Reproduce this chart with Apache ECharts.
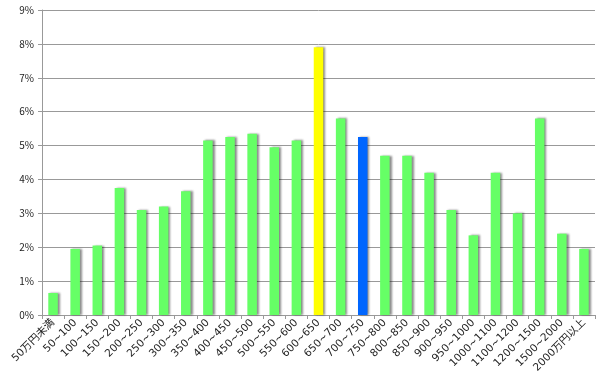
<!DOCTYPE html>
<html>
<head>
<meta charset="utf-8">
<script src="https://cdn.jsdelivr.net/npm/echarts@6/dist/echarts.min.js"></script>
<style>
  html, body { margin: 0; padding: 0; background: #fff; }
  #chart { width: 600px; height: 384px; }
</style>
</head>
<body>
<div id="chart"></div>
<script>
const categories = ['50万円未満', '50~100', '100~150', '150~200', '200~250', '250~300', '300~350',
  '350~400', '400~450', '450~500', '500~550', '550~600', '600~650', '650~700', '700~750',
  '750~800', '800~850', '850~900', '900~950', '950~1000', '1000~1100', '1100~1200',
  '1200~1500', '1500~2000', '2000万円以上']
const values = [0.65, 1.95, 2.05, 3.75, 3.1, 3.2, 3.65, 5.15, 5.25, 5.35, 4.95, 5.15,
  7.9, 5.8, 5.25, 4.7, 4.7, 4.2, 3.1, 2.35, 4.2, 3.0, 5.8, 2.4, 1.95]
// highlighted bars
const highlight = { '600~650': '#ffff00', '700~750': '#0066ff' }

const chart = echarts.init(document.getElementById('chart'))
const font = 'Noto Sans CJK JP'

chart.setOption({
  animation: false,
  grid: { left: 42, right: 5, top: 10, bottom: 69 },
  xAxis: {
    type: 'category',
    data: categories,
    axisLine: { lineStyle: { color: '#999', width: 1 } },
    axisTick: { show: true, alignWithLabel: false, length: 4, lineStyle: { color: '#999' } },
    axisLabel: { rotate: 45, color: '#222', fontSize: 10.5, fontFamily: '"DejaVu Sans", "Noto Sans CJK JP"', margin: 6, interval: 0 }
  },
  yAxis: {
    type: 'value',
    min: 0,
    max: 9,
    interval: 1,
    axisLine: { show: true, lineStyle: { color: '#999' } },
    axisTick: { show: true, length: 4, lineStyle: { color: '#999' } },
    axisLabel: { formatter: '{value}%', color: '#222', fontSize: 10, fontFamily: font, margin: 8 },
    splitLine: { lineStyle: { color: '#999', width: 1 } }
  },
  series: [{
    type: 'bar',
    barWidth: '43%',
    data: values.map((v, i) => ({
      value: v,
      itemStyle: { color: highlight[categories[i]] || '#66ff66' }
    })),
    itemStyle: {
      shadowColor: 'rgba(0,0,0,0.45)',
      shadowBlur: 2,
      shadowOffsetX: 2,
      shadowOffsetY: 0
    }
  }]
})
</script>
</body>
</html>
